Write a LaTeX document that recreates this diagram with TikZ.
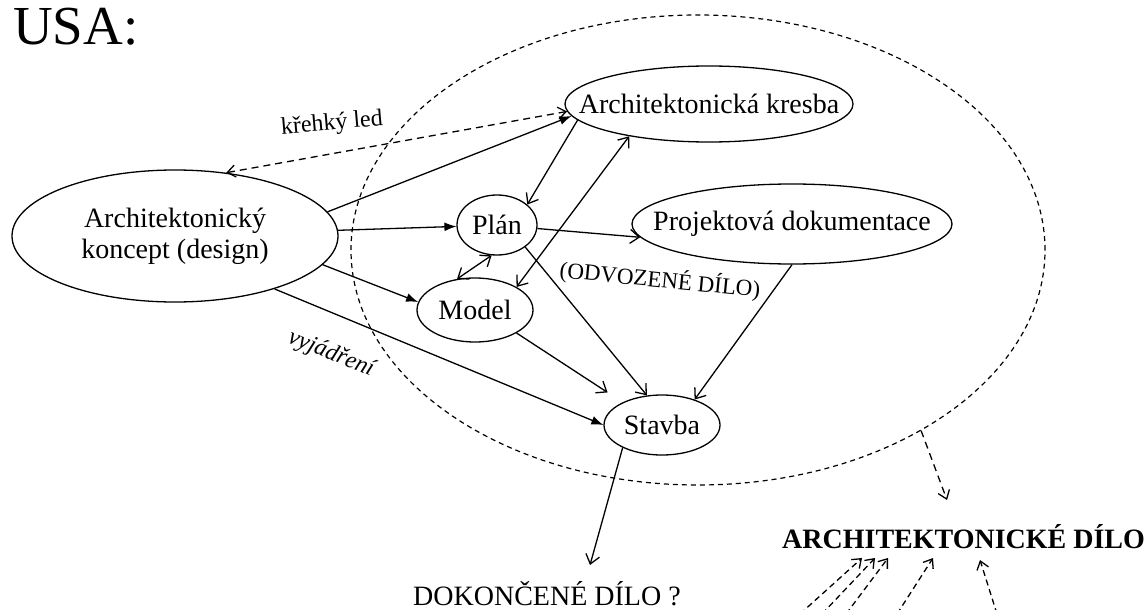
\documentclass[tikz,border=0pt]{standalone}
\usepackage{fontspec}
\setmainfont{Liberation Serif}
\usetikzlibrary{shapes.geometric,arrows.meta}
\begin{document}
\begin{tikzpicture}[x=1pt,y=-1pt,
  el/.style={ellipse, draw, line width=1.3pt, inner sep=0pt, font=\fontsize{28}{31}\selectfont},
  conn/.style={line width=1.3pt},
  fh/.style={conn, -{Latex[length=12pt,width=9pt]}},
  oh/.style={conn, -{Straight Barb[length=9pt,width=14pt]}},
  boh/.style={conn, {Straight Barb[length=9pt,width=14pt]}-{Straight Barb[length=9pt,width=14pt]}},
  dsh/.style={line width=1.3pt, dash pattern=on 7pt off 5pt},
  dhead/.style={-{Straight Barb[length=8pt,width=12pt]}},
  lbl/.style={font=\fontsize{24}{28}\selectfont, inner sep=0pt},
  txt/.style={anchor=base west, inner sep=0pt, font=\fontsize{28}{31}\selectfont},
]
\useasboundingbox (0,0) rectangle (1148,610);
\node[anchor=base west, inner sep=0pt, font=\fontsize{55}{60}\selectfont] (usa) at (13,45) {USA:};
\node[ellipse, draw, inner sep=0pt, minimum width=694pt, minimum height=470pt, line width=1.2pt, dash pattern=on 5pt off 4pt] (big) at (698,250) {};

\node[el, minimum width=326pt, minimum height=132pt, align=center] (K) at (175,236) {Architektonický\\koncept (design)};
\node[el, minimum width=288pt, minimum height=76pt] (AK) at (709,104) {\makebox[0pt]{Architektonická kresba}};
\node[el, minimum width=80pt, minimum height=60pt] (P) at (497,225) {Plán};
\node[el, minimum width=116pt, minimum height=64pt] (M) at (475,310) {Model};
\node[el, minimum width=320pt, minimum height=80pt] (PD) at (792,224) {\makebox[0pt]{Projektová dokumentace}};
\node[el, minimum width=116pt, minimum height=60pt] (S) at (662,425) {Stavba};

\node[txt] (dok) at (413,605) {DOKONČENÉ DÍLO ?};
\node[txt, font=\fontsize{28}{31}\selectfont\bfseries] (arch) at (782,548) {ARCHITEKTONICKÉ DÍLO};

\node[lbl, rotate=5] (kl) at (332,124) {křehký led};
\node[lbl, rotate=-22, font=\fontsize{24}{28}\selectfont\itshape] (vy) at (331,354) {vyjádření};
\node[lbl, rotate=-5.6, font=\fontsize{23}{27}\selectfont] (odv) at (660,280) {(ODVOZENÉ DÍLO)};

\draw[fh] (K.9) -- (AK.185);
\draw[fh] (K.2) -- (P.182);
\draw[fh] (K.-11) -- (M.172);
\draw[fh] (K.-28) -- (S.west);
\draw[oh] (AK.187) -- (P.34);
\draw[boh] (M.29) -- (AK.202);
\draw[boh] (M.120) -- (P.260);
\draw[oh] (P.-5) -- (PD.185);
\draw[oh] (P.-38) -- (S.117);
\draw[oh, shorten >=18pt] (M.-29) -- (S.150);
\draw[oh] (PD.south) -- (S.38);
\coordinate (dokTip) at (590,565);
\draw[oh] (S.210) -- (dokTip);

\draw[dsh, {Straight Barb[length=8pt,width=12pt]}-{Straight Barb[length=8pt,width=12pt]}] (K.51) -- (AK.183);
\coordinate (archTip) at (947,500);
\draw[dsh, dhead] (big.-39) -- (archTip);

\foreach \sx/\tx/\ty [count=\i] in {800/862/558, 822/875/558, 846/888/558, 897/933/558, 997/980/560} {
  \coordinate (src\i) at (\sx,614);
  \coordinate (tip\i) at (\tx,\ty);
  \draw[dsh, dash pattern=on 6pt off 4pt, dhead] (src\i) -- (tip\i);
}
\end{tikzpicture}
\end{document}
